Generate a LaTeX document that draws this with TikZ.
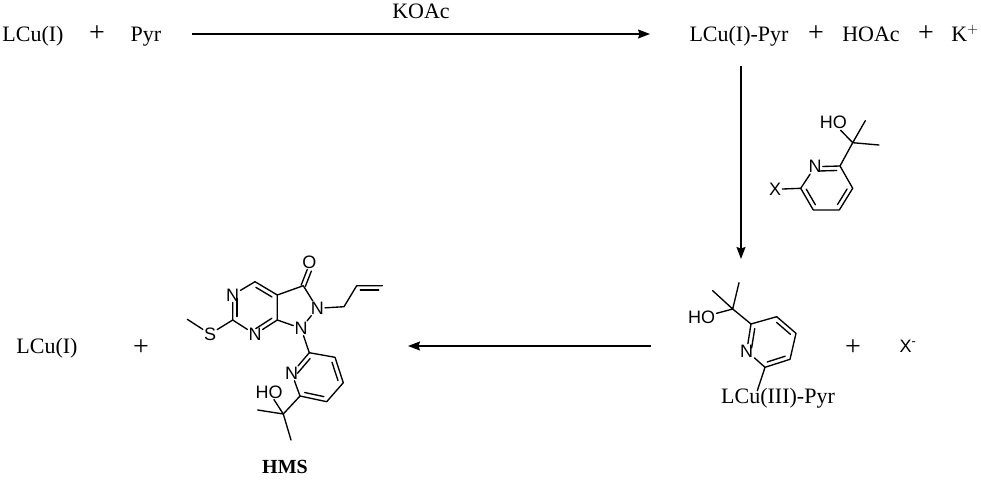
\documentclass[tikz,border=0pt]{standalone}
\usepackage{fontspec}
\setmainfont{Liberation Serif}
\setsansfont{Liberation Sans}
\usetikzlibrary{calc,arrows.meta}
\newcommand{\dbl}[3][90]{%
  \draw[bond] ($(#2)!.14!(#3)!4.4pt!#1:(#3)$) -- ($(#2)!.86!(#3)!4.4pt!-#1:(#2)$);}
\tikzset{
  txt/.style={font=\fontsize{22}{24}\selectfont,inner sep=0pt,anchor=base},
  plus/.style={font=\fontsize{28}{28}\selectfont,inner sep=0pt},
  atom/.style={font=\sffamily\fontsize{18}{20}\selectfont,inner sep=1pt},
  bond/.style={line width=1.35pt,line cap=round,line join=round},
  rxn/.style={line width=1.4pt,-{Stealth[length=12pt,width=9pt,inset=1.5pt]}}
}
\begin{document}
\begin{tikzpicture}[x=1pt,y=-1pt]
\useasboundingbox (0,0) rectangle (981,479);
% text
\node[txt] (t1) at (33,41.5) {LCu(I)};
\node[plus] (p1) at (97,34) {+};
\node[txt] (t2) at (146,41.5) {Pyr};
\node[txt] (t3) at (421,18.5) {KOAc};
\node[txt] (t4) at (739,41.5) {LCu(I)-Pyr};
\node[plus] (p2) at (816,34) {+};
\node[txt] (t5) at (871,41.5) {HOAc};
\node[plus] (p3) at (926,34) {+};
\node[txt] (t6) at (965,41.5) {K$^{+}$};
\node[txt] (t7) at (47,353.5) {LCu(I)};
\node[plus] (p4) at (141,347.5) {+};
\node[plus] (p5) at (853,348) {+};
\node[atom] (t8) at (908,346) {X\textsuperscript{-}};
\node[txt,font=\bfseries\fontsize{20}{22}\selectfont] (hms) at (285,473.5) {HMS};
% arrows
\coordinate (a1) at (192,34); \coordinate (a2) at (650,34);
\coordinate (b1) at (741,66); \coordinate (b2) at (741,259);
\coordinate (c1) at (651,346); \coordinate (c2) at (408,346);
\draw[rxn] (a1) -- (a2);
\draw[rxn] (b1) -- (b2);
\draw[rxn] (c1) -- (c2);
% HMS
\coordinate (Me) at (187.3,319.3);
\node[atom] (S) at (210,334) {S};
\coordinate (C2) at (232.7,320);
\node[atom] (N3) at (232.7,295) {N};
\coordinate (C4) at (255,281.7);
\coordinate (C4a) at (277.3,295);
\coordinate (C7a) at (277.3,320);
\node[atom] (N7) at (255,334.3) {N};
\coordinate (CO) at (303.3,285.7);
\node[atom] (O) at (309.3,262.7) {O};
\node[atom] (N2) at (317.3,308.3) {N};
\node[atom] (N1) at (301,328.3) {N};
\coordinate (A1) at (344,306.7);
\coordinate (A2) at (356.7,285.7);
\coordinate (A3) at (382.3,285.7);
\coordinate (P2) at (309.3,352.7);
\coordinate (P3) at (335,357.3);
\coordinate (P4) at (343.3,382.7);
\coordinate (P5) at (326.7,401.7);
\coordinate (P6) at (300,396);
\node[atom] (PN) at (291.7,373.3) {N};
\coordinate (Q) at (283.3,414);
\node[atom] (QO) at (269,392) {HO};
\coordinate (Q1) at (257.7,410);
\coordinate (Q2) at (291,440);
\draw[bond] (Me)--(S) (S)--(C2) (C2)--(N3) (N3)--(C4) (C4)--(C4a) (C4a)--(C7a) (C7a)--(N7) (N7)--(C2)
  (C4a)--(CO) (CO)--(N2) (N2)--(N1) (N1)--(C7a) (N2)--(A1) (A1)--(A2) (A2)--(A3)
  (N1)--(P2) (P2)--(P3) (P3)--(P4) (P4)--(P5) (P5)--(P6) (P6)--(PN) (PN)--(P2)
  (P6)--(Q) (Q)--(QO) (Q)--(Q1) (Q)--(Q2);
\draw[bond] ($(CO)!2.2pt!90:(O)$) -- ($(O.south)!2.2pt!-90:(CO)$);
\draw[bond] ($(CO)!2.2pt!-90:(O)$) -- ($(O.south)!2.2pt!90:(CO)$);
\dbl[-90]{C2}{N3}
\dbl[-90]{C4}{C4a}
\dbl[-90]{C7a}{N7}
\dbl[-90]{A2}{A3}
\dbl[90]{P2}{PN}
\dbl[-90]{P3}{P4}
\dbl[-90]{P5}{P6}
% right product
\coordinate (rM1) at (712.7,290.7);
\coordinate (rM2) at (739,282.7);
\coordinate (rQ) at (732.7,309);
\node[atom] (rO) at (701.7,317.3) {HO};
\coordinate (r2) at (751,324);
\coordinate (r3) at (776.7,316.7);
\coordinate (r4) at (796,333.3);
\coordinate (r5) at (790,359.3);
\coordinate (r6) at (765,367.3);
\node[atom] (rN) at (746.7,351) {N};
\node[txt] (rL) at (778,403.5) {LCu(III)-Pyr};
\coordinate (rE) at (757.3,390.7);
\draw[bond] (rM1)--(rQ) (rM2)--(rQ) (rQ)--(rO) (rQ)--(r2) (r2)--(r3) (r3)--(r4) (r4)--(r5) (r5)--(r6) (r6)--(rN) (rN)--(r2) (r6)--(rE);
\dbl[90]{r2}{rN}
\dbl[-90]{r3}{r4}
\dbl[-90]{r5}{r6}
% reagent
\node[atom] (mO) at (833.3,122.7) {HO};
\coordinate (mM1) at (865.3,120.7);
\coordinate (mM2) at (879,145);
\coordinate (mQ) at (852.7,142.7);
\coordinate (m2) at (840,166);
\node[atom] (mN) at (815,166.7) {N};
\coordinate (m6) at (800.7,188.3);
\node[atom] (mX) at (775,189.3) {X};
\coordinate (m5) at (813.3,210);
\coordinate (m4) at (839.3,210);
\coordinate (m3) at (852.7,188.3);
\draw[bond] (mO)--(mQ) (mM1)--(mQ) (mM2)--(mQ) (mQ)--(m2) (m2)--(mN) (mN)--(m6) (m6)--(mX) (m6)--(m5) (m5)--(m4) (m4)--(m3) (m3)--(m2);
\dbl[90]{m2}{mN}
\dbl[90]{m6}{m5}
\dbl[90]{m4}{m3}
\end{tikzpicture}
\end{document}
